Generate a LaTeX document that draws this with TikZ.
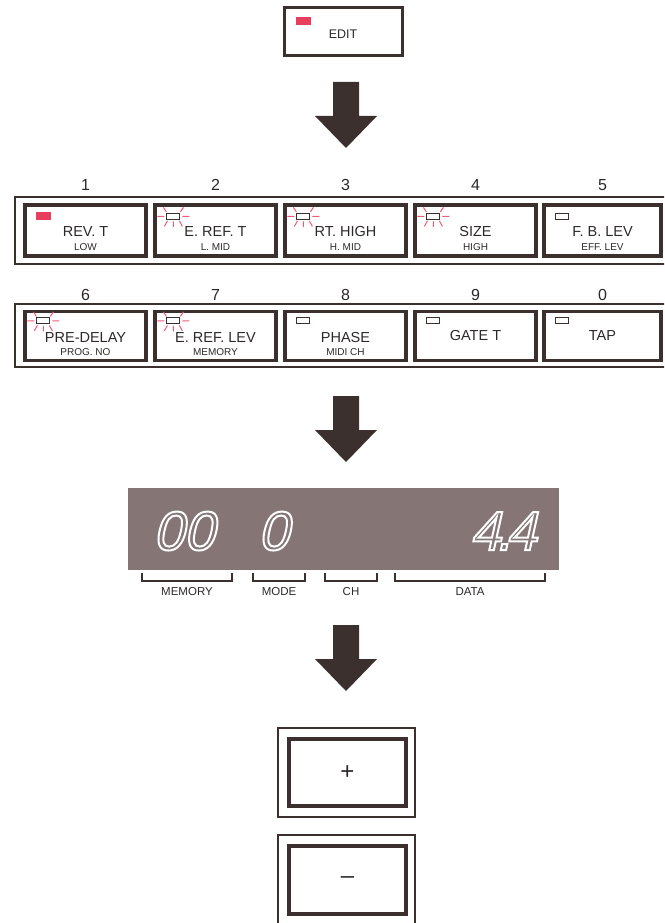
\documentclass[tikz,border=0pt]{standalone}
\usepackage{fontspec}
\setmainfont{Liberation Sans}
\newfontfamily\segfont[FakeSlant=0.22]{Liberation Sans}
\definecolor{ink}{RGB}{60,48,46}
\definecolor{ledred}{RGB}{230,62,92}
\definecolor{raycol}{RGB}{240,90,120}
\definecolor{lcd}{RGB}{134,117,117}
\definecolor{txt}{RGB}{45,40,40}
\newcommand{\outlinetxt}[1]{\special{pdf:literal direct 1 Tr 2 w}#1\special{pdf:literal direct 0 Tr}}
\tikzset{
  x=1pt, y=-1pt,
  keybox/.style={draw=ink, line width=3.2pt, minimum width=119pt, minimum height=50pt, inner sep=0pt},
  framebox/.style={draw=ink, line width=2.4pt},
  numlabel/.style={font=\fontsize{16}{16}\selectfont, text=txt, inner sep=0pt},
  mainlabel/.style={font=\fontsize{14.5}{15}\selectfont, text=txt, inner sep=0pt},
  sublabel/.style={font=\fontsize{10}{10}\selectfont, text=txt, inner sep=0pt},
  displabel/.style={font=\fontsize{11.5}{12}\selectfont, text=txt, inner sep=0pt},
  segtxt/.style={font=\segfont\fontsize{55}{55}\selectfont, text=white, inner sep=0pt},
  bigarrow/.pic={\fill[ink] (-13,0) -- (13,0) -- (13,34) -- (31,34) -- (0,66) -- (-31,34) -- (-13,34) -- cycle;},
  ledoff/.pic={\draw[ink, line width=1.1pt] (-6.5,-3) rectangle (6.5,3);},
  ledon/.pic={\fill[ledred] (-7.5,-4) rectangle (7.5,4);},
  ledblink/.pic={\draw[ink, line width=1.1pt] (-6.5,-3) rectangle (6.5,3);
    \draw[raycol, line width=1pt] (-16,0) -- (-9,0) (9,0) -- (16,0)
      (-7,-4.5) -- (-10,-9) (7,-4.5) -- (10,-9)
      (-6,4.5) -- (-9,10) (0,5) -- (0,10.5) (6,4.5) -- (9,10);},
}
\begin{document}
\begin{tikzpicture}
\useasboundingbox (0,0) rectangle (664,923);
\clip (0,0) rectangle (664,923);

% EDIT key
\draw[ink, line width=3pt] (284,8) rectangle (402,56);
\node[inner sep=0pt, minimum width=118pt, minimum height=48pt] (edit) at (343,32) {};
\pic at (303.5,21) {ledon};
\node[mainlabel, font=\fontsize{12.5}{13}\selectfont] (edittxt) at (343,34) {EDIT};

\pic at (346,82) {bigarrow};

% row 1
\draw[framebox] (15,197) rectangle (672,264);
\foreach \n/\cx/\w/\m/\s/\led in {
  1/85.5/121/{REV. T}/{LOW}/ledon,
  2/215.5/121/{E. REF. T}/{L. MID}/ledblink,
  3/345.5/121/{RT. HIGH}/{H. MID}/ledblink,
  4/475.5/121/{SIZE}/{HIGH}/ledblink,
  5/602.5/117/{F. B. LEV}/{EFF. LEV}/ledoff}{
  \node[keybox, minimum width=\w pt, minimum height=51pt] (k\n) at (\cx,230.5) {};
  \node[numlabel] (n\n) at (\cx,185) {\n};
  \node[mainlabel] (m\n) at ([yshift=-28pt]k\n.north) {\m};
  \node[sublabel] (s\n) at ([yshift=-44pt]k\n.north) {\s};
  \pic at ([xshift=20pt,yshift=-13pt]k\n.north west) {\led};
}

% row 2
\draw[framebox] (15,304) rectangle (672,367);
\foreach \n/\i/\cx/\w/\m/\s/\led in {
  6/a/85.5/121/{PRE-DELAY}/{PROG. NO}/ledblink,
  7/b/215.5/121/{E. REF. LEV}/{MEMORY}/ledblink,
  8/c/345.5/121/{PHASE}/{MIDI CH}/ledoff}{
  \node[keybox, minimum width=\w pt, minimum height=49pt] (k\i) at (\cx,336) {};
  \node[numlabel] (n\i) at (\cx,295) {\n};
  \node[mainlabel] (m\i) at ([yshift=-28pt]k\i.north) {\m};
  \node[sublabel] (s\i) at ([yshift=-42pt]k\i.north) {\s};
  \pic at ([xshift=20pt,yshift=-11pt]k\i.north west) {\led};
}
\foreach \n/\i/\cx/\w/\m in {9/d/475.5/121/{GATE T}, 0/e/602.5/117/{TAP}}{
  \node[keybox, minimum width=\w pt, minimum height=49pt] (k\i) at (\cx,336) {};
  \node[numlabel] (n\i) at (\cx,295) {\n};
  \node[mainlabel] (m\i) at (k\i.center) {\m};
  \pic at ([xshift=20pt,yshift=-11pt]k\i.north west) {ledoff};
}

\pic at (346,396) {bigarrow};

% display
\fill[lcd] (128,488) rectangle (559,570);
\node[inner sep=0pt, minimum width=431pt, minimum height=82pt] (disp) at (343.5,529) {};
\node[segtxt, anchor=base west] (dmem) at (153,550) {\outlinetxt{00}};
\node[segtxt, anchor=base west] (dmode) at (258,550) {\outlinetxt{0}};
\node[segtxt, anchor=base west] (ddata) at (470,550) {\outlinetxt{4\kern-5pt.\kern-5pt4}};

% brackets
\foreach \a/\b/\t/\nm in {142/232/MEMORY/bm, 253/305/MODE/bo, 325/377/CH/bc, 395/545/DATA/bd}{
  \draw[ink, line width=1.8pt] (\a,573) -- (\a,581) -- (\b,581) -- (\b,573);
  \node[displabel] (\nm) at ({(\a+\b)/2},592) {\t};
}

\pic at (346,625) {bigarrow};

% plus / minus
\draw[ink, line width=1.3pt] (278,728) rectangle (415,817);
\node[draw=ink, line width=3.6pt, minimum width=117pt, minimum height=67pt, inner sep=0pt] (plus) at (347.5,772.5) {};
\node[font=\fontsize{24}{24}\selectfont, text=txt, inner sep=0pt] (plussign) at (plus.center) {+};
\draw[ink, line width=1.3pt] (278,835) rectangle (415,925);
\node[draw=ink, line width=3.6pt, minimum width=117pt, minimum height=68pt, inner sep=0pt] (minus) at (347.5,880) {};
\node[font=\fontsize{24}{24}\selectfont, text=txt, inner sep=0pt] (minussign) at (minus.center) {\textendash};
\end{tikzpicture}
\end{document}
